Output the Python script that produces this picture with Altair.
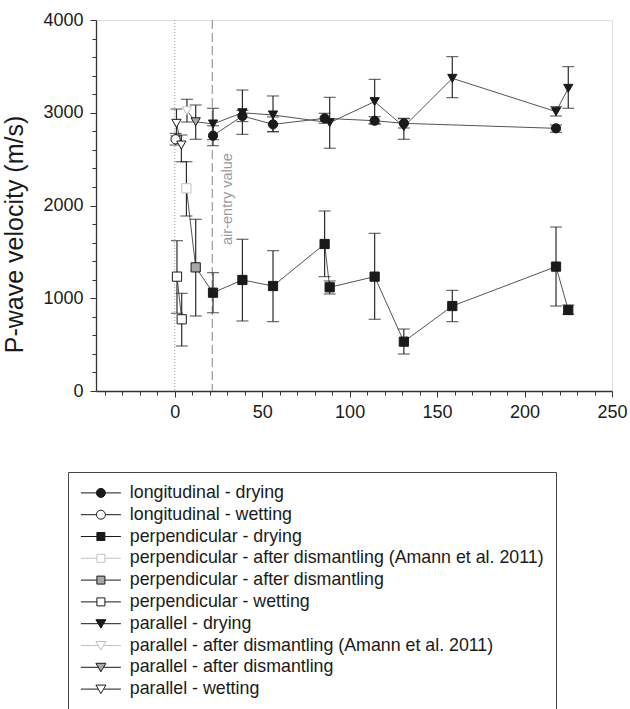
import altair as alt
import pandas as pd

# ---------------- data ----------------
series_names = [
    "longitudinal - drying",
    "longitudinal - wetting",
    "perpendicular - drying",
    "perpendicular - after dismantling (Amann et al. 2011)",
    "perpendicular - after dismantling",
    "perpendicular - wetting",
    "parallel - drying",
    "parallel - after dismantling (Amann et al. 2011)",
    "parallel - after dismantling",
    "parallel - wetting",
]

long_dry_x = [21.9, 38.7, 56.2, 85.7, 114.3, 131.0, 218.0]
long_dry_v = [2753, 2965, 2875, 2940, 2914, 2886, 2832]
long_dry_lo = [2645, 2905, 2796, 2886, 2879, 2836, 2789]
long_dry_hi = [2860, 3025, 2955, 2994, 2958, 2936, 2868]

long_wet_x = [0.5]
long_wet_v = [2714]
long_wet_lo = [2652]
long_wet_hi = [2777]

perp_dry_x = [21.9, 38.7, 56.2, 85.7, 88.6, 114.3, 131.0, 158.7, 218.0, 225.0]
perp_dry_v = [1060, 1197, 1132, 1585, 1118, 1233, 532, 916, 1341, 873]
perp_dry_lo = [844, 755, 748, 1233, 1046, 773, 399, 748, 916, 827]
perp_dry_hi = [1276, 1636, 1513, 1941, 1186, 1700, 668, 1085, 1768, 927]

perp_amann_x = [6.7]
perp_amann_v = [2185]
perp_amann_lo = [1887]
perp_amann_hi = [2472]

perp_dism_x = [12.0]
perp_dism_v = [1333]
perp_dism_lo = [809]
perp_dism_hi = [1851]

perp_wet_x = [1.3, 4.0]
perp_wet_v = [1233, 773]
perp_wet_lo = [838, 485]
perp_wet_hi = [1621, 1053]

par_dry_x = [21.9, 38.7, 56.2, 88.6, 114.3, 131.0, 158.7, 218.0, 225.0]
par_dry_v = [2879, 3000, 2976, 2893, 3120, 2850, 3371, 3012, 3263]
par_dry_lo = [2710, 2767, 2796, 2617, 2880, 2714, 3163, 2965, 3048]
par_dry_hi = [3048, 3245, 3181, 3166, 3360, 2940, 3605, 3066, 3497]

par_amann_x = [7.0]
par_amann_v = [3022]
par_amann_lo = [2900]
par_amann_hi = [3145]

par_dism_x = [12.0]
par_dism_v = [2903]
par_dism_lo = [2714]
par_dism_hi = [3084]

par_wet_x = [1.0, 3.8]
par_wet_v = [2886, 2652]
par_wet_lo = [2750, 2472]
par_wet_hi = [3040, 2760]

# connecting-line groups
line_groups = ["L-dry", "L-wet", "P-main", "P-main", "P-main", "P-wet",
               "Pa-main", "Pa-main", "Pa-main", "Pa-wet"]

# marker styles
marker_shapes = ["circle", "circle", "square", "square", "square", "square",
                 "triangle-down", "triangle-down", "triangle-down", "triangle-down"]
marker_sizes = [85, 85, 72, 72, 72, 72, 120, 120, 120, 120]
marker_fills = ["#1a1a1a", "white", "#1a1a1a", "white", "#a8a8a8", "white",
                "#1a1a1a", "white", "#a8a8a8", "white"]
marker_strokes = ["#1a1a1a", "#1a1a1a", "#1a1a1a", "#c2c2c2", "#1a1a1a", "#1a1a1a",
                  "#1a1a1a", "#c2c2c2", "#1a1a1a", "#1a1a1a"]

# legend symbols: line with marker in the middle (unit = 5 px, shifted right)
CIRC = "M-1.6,0H1.5M3.3,0H6.4M3.3,0A0.9,0.9,0,1,1,1.5,0A0.9,0.9,0,1,1,3.3,0Z"
SQR = "M-1.6,0H1.6M3.2,0H6.4M1.6,-0.8H3.2V0.8H1.6Z"
TRI = "M-1.6,0H1.87M2.93,0H6.4M1.4,-0.8H3.4L2.4,0.9Z"
legend_shapes = [CIRC, CIRC, SQR, SQR, SQR, SQR, TRI, TRI, TRI, TRI]

vline_x = [0.0, 21.5]
note_x = [30.5]
note_v = [2070]
note_text = ["air-entry value"]

x_ticks = list(range(-40, 251, 10))
y_ticks = list(range(0, 4001, 200))

# ---------------- table ----------------
all_series = [
    (long_dry_x, long_dry_v, long_dry_lo, long_dry_hi),
    (long_wet_x, long_wet_v, long_wet_lo, long_wet_hi),
    (perp_dry_x, perp_dry_v, perp_dry_lo, perp_dry_hi),
    (perp_amann_x, perp_amann_v, perp_amann_lo, perp_amann_hi),
    (perp_dism_x, perp_dism_v, perp_dism_lo, perp_dism_hi),
    (perp_wet_x, perp_wet_v, perp_wet_lo, perp_wet_hi),
    (par_dry_x, par_dry_v, par_dry_lo, par_dry_hi),
    (par_amann_x, par_amann_v, par_amann_lo, par_amann_hi),
    (par_dism_x, par_dism_v, par_dism_lo, par_dism_hi),
    (par_wet_x, par_wet_v, par_wet_lo, par_wet_hi),
]
rows = []
for name, grp, (xs, vs, los, his) in zip(series_names, line_groups, all_series):
    for xv, vv, lo, hi in zip(xs, vs, los, his):
        rows.append({"series": name, "grp": grp, "x": xv, "v": vv, "lo": lo, "hi": hi})
df = pd.DataFrame(rows)

vl_df = pd.DataFrame({"x": vline_x})
note_df = pd.DataFrame({"x": note_x, "v": note_v, "t": note_text})

FONT = "Liberation Sans"
TXT = "#1a1a1a"
AX = "#333333"

xscale = alt.Scale(domain=[-45, 250], nice=False, zero=False)
yscale = alt.Scale(domain=[0, 4000], nice=False, zero=False)

x_axis = alt.Axis(
    values=x_ticks, format="d", grid=False, title="Suction (MPa)",
    labelExpr="datum.value >= 0 && datum.value % 50 === 0 ? datum.label : ''",
    tickSize={"condition": {"test": "datum.value % 50 === 0", "value": 6}, "value": 4},
    labelOverlap=False, labelFlush=False,
    labelPadding=6, labelFontSize=18, labelColor=TXT, labelFont=FONT,
    titleFontSize=21, titleFont=FONT, titleColor=TXT, titleFontWeight="normal",
    titleBaseline="alphabetic", titleY=428,
    domainColor=AX, tickColor=AX, domainWidth=1.3, tickWidth=1,
)
y_axis = alt.Axis(
    values=y_ticks, format="d", grid=False, title="P-wave velocity (m/s)",
    labelExpr="datum.value % 1000 === 0 ? datum.label : ''",
    tickSize={"condition": {"test": "datum.value % 1000 === 0", "value": 6}, "value": 4},
    labelOverlap=False, labelFlush=False,
    labelPadding=7, labelFontSize=18, labelColor=TXT, labelFont=FONT,
    titleFontSize=25, titleFont=FONT, titleColor=TXT, titleFontWeight="normal",
    titleAngle=270, titleBaseline="alphabetic", titleAlign="center",
    titleX=-74, titleY=214,
    domainColor=AX, tickColor=AX, domainWidth=1.3, tickWidth=1,
)

X = alt.X("x:Q", scale=xscale, axis=x_axis)
Y = alt.Y("v:Q", scale=yscale, axis=y_axis)

base = alt.Chart(df)

points = base.mark_point(opacity=1, strokeWidth=1).encode(
    x=X, y=Y,
    shape=alt.Shape("series:N", scale=alt.Scale(domain=series_names, range=marker_shapes), legend=None),
    fill=alt.Fill("series:N", scale=alt.Scale(domain=series_names, range=marker_fills), legend=None),
    stroke=alt.Stroke("series:N", scale=alt.Scale(domain=series_names, range=marker_strokes), legend=None),
    size=alt.Size("series:N", scale=alt.Scale(domain=series_names, range=marker_sizes), legend=None),
)

dotted = alt.Chart(vl_df).transform_filter("datum.x == 0").mark_rule(
    color="#9a9a9a", strokeWidth=1, strokeDash=[1, 2]
).encode(x=X)
dashed = alt.Chart(vl_df).transform_filter("datum.x != 0").mark_rule(
    color="#a0a0a0", strokeWidth=1.3, strokeDash=[9, 4]
).encode(x=X)

note = alt.Chart(note_df).mark_text(
    angle=270, fontSize=14.5, font=FONT, color="#9a9a9a", align="center", baseline="middle"
).encode(x=X, y=Y, text="t:N")

lines = base.mark_line(color="#555555", strokeWidth=1).encode(
    x=X, y=Y, detail="grp:N", order="x:Q"
)
err = base.mark_rule(color="#2b2b2b", strokeWidth=1.2).encode(
    x=X, y=alt.Y("lo:Q", scale=yscale, axis=y_axis), y2="hi:Q"
)
cap_top = base.mark_tick(orient="horizontal", size=12, thickness=1.2, color="#2b2b2b").encode(
    x=X, y=alt.Y("hi:Q", scale=yscale, axis=y_axis)
)
cap_bot = base.mark_tick(orient="horizontal", size=12, thickness=1.2, color="#2b2b2b").encode(
    x=X, y=alt.Y("lo:Q", scale=yscale, axis=y_axis)
)

leg = alt.Legend(
    orient="none", legendX=-28, legendY=452, title=None,
    symbolSize=100, symbolStrokeWidth=1, symbolOpacity=1,
    labelFontSize=17.8, labelFont=FONT, labelColor=TXT, labelOffset=32, labelLimit=0,
    rowPadding=2.8, padding=12, strokeColor="#444444", fillColor="white",
)
legend_layer = base.transform_filter("false").mark_point(opacity=1, strokeWidth=1).encode(
    x=X, y=Y,
    shape=alt.Shape("series:N", scale=alt.Scale(domain=series_names, range=legend_shapes), legend=leg),
    fill=alt.Fill("series:N", scale=alt.Scale(domain=series_names, range=marker_fills), legend=leg),
    stroke=alt.Stroke("series:N", scale=alt.Scale(domain=series_names, range=marker_strokes), legend=leg),
)

chart = alt.layer(
    dotted, dashed, note, lines, err, cap_top, cap_bot, points, legend_layer
).resolve_scale(
    shape="independent", fill="independent", stroke="independent", size="independent"
).properties(
    width=516, height=371,
    autosize=alt.AutoSizeParams(type="none"),
    padding={"left": 96, "top": 20, "right": 18, "bottom": 318},
).configure_view(
    stroke="#333333", strokeWidth=1.5
).configure(font=FONT, background="white")

chart.save("out.html", embed_options={"renderer": "svg", "actions": False})
